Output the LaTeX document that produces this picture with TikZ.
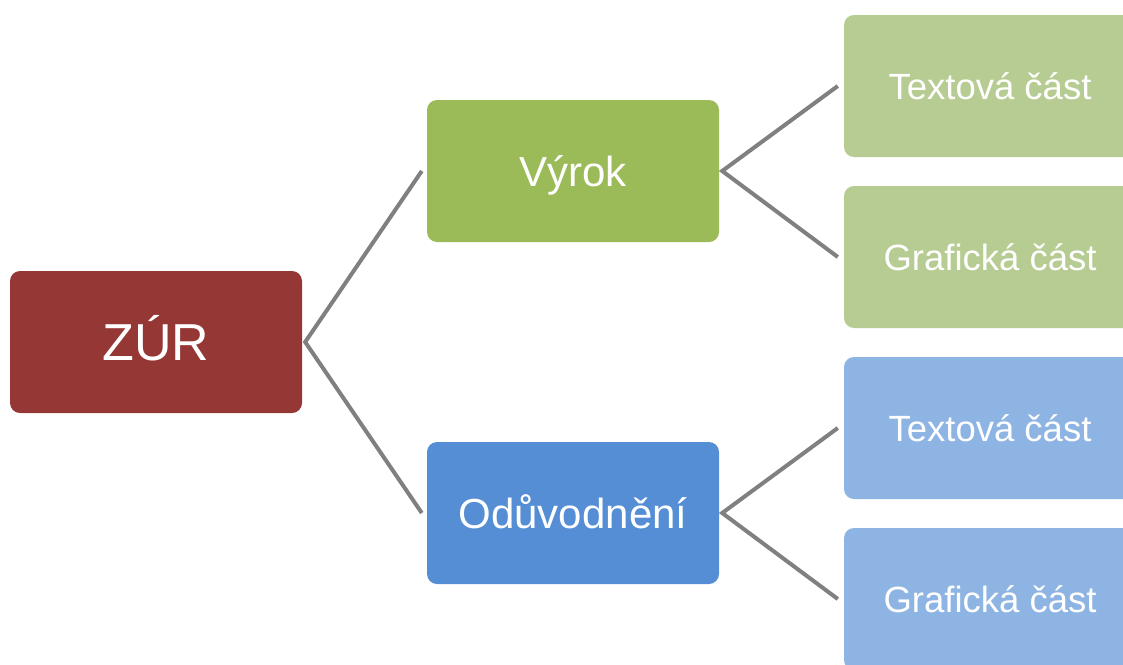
\documentclass[tikz,border=0pt]{standalone}
\usepackage{fontspec}
\setmainfont{Liberation Sans}
\usepackage{xcolor}
\usetikzlibrary{positioning,calc}
\definecolor{zurred}{HTML}{953735}
\definecolor{vygreen}{HTML}{9BBB59}
\definecolor{odblue}{HTML}{558ED5}
\definecolor{ltgreen}{HTML}{B7CC92}
\definecolor{ltblue}{HTML}{8EB4E3}
\definecolor{linegray}{HTML}{808080}
\begin{document}
\begin{tikzpicture}[line cap=butt,line join=miter,x=1pt,y=-1pt,
    box/.style={rectangle,rounded corners=10pt,minimum width=292pt,minimum height=142pt,
      text=white,inner sep=0pt,text depth=0pt},
    lvlzero/.style={box,fill=zurred,font=\fontsize{52}{60}\selectfont,text height=37pt},
    lvlone/.style={box,font=\fontsize{42}{50}\selectfont,text height=30pt},
    lvltwo/.style={box,font=\fontsize{36.5}{44}\selectfont,text height=26pt},
    conn/.style={line width=4pt,color=linegray}]
                \clip (0,0) rectangle (1123,664);
                \useasboundingbox (0,0) rectangle (1123,664);
                % boxes
                \node[lvlzero] (zur) at (156,342) {ZÚR};
                \node[lvlone,fill=vygreen] (vyrok) at (573,171) {Výrok};
                \node[lvlone,fill=odblue] (oduv) at (573,513) {Odůvodnění};
                \node[lvltwo,fill=ltgreen] (vtext) at (990,86) {Textová část};
                \node[lvltwo,fill=ltgreen] (vgraf) at (990,257) {Grafická část};
                \node[lvltwo,fill=ltblue] (otext) at (990,428) {Textová část};
                \node[lvltwo,fill=ltblue] (ograf) at (990,599) {Grafická část};
                % connectors
                \draw [conn] ([xshift=-5pt]vyrok.west)-- ([xshift=3pt]zur.east)-- ([xshift=-5pt]oduv.west);
                \draw [conn] ([xshift=-6pt]vtext.west)-- ([xshift=3pt]vyrok.east)-- ([xshift=-6pt]vgraf.west);
                \draw [conn] ([xshift=-6pt]otext.west)-- ([xshift=3pt]oduv.east)-- ([xshift=-6pt]ograf.west);
            \end{tikzpicture}
\end{document}
